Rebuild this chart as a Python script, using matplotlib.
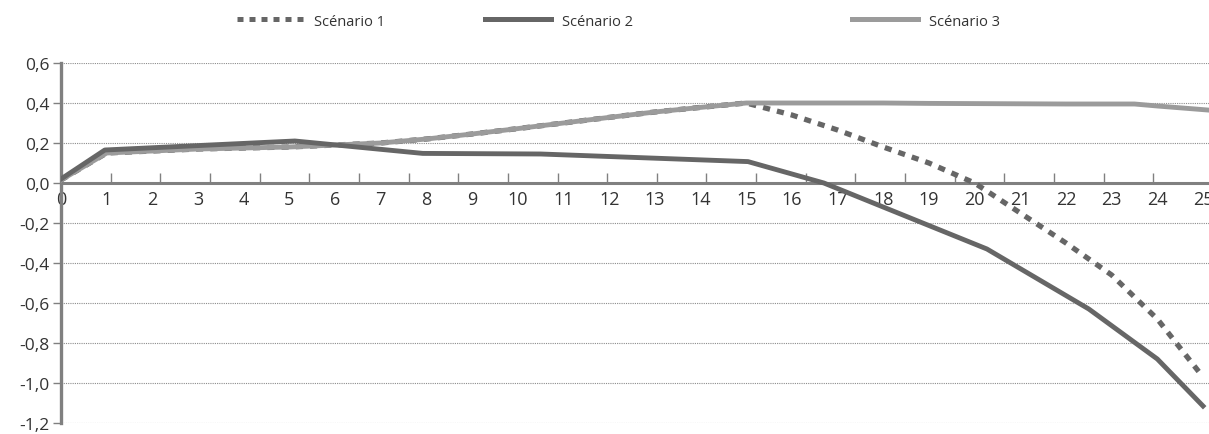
import matplotlib
matplotlib.use("Agg")
import matplotlib.pyplot as plt
from matplotlib.lines import Line2D
from matplotlib.ticker import FixedLocator, FuncFormatter

# ── Data ──────────────────────────────────────────────────────────────────────

SC3_X = [0, 1, 2, 3, 4, 5, 6, 7, 8, 9, 10, 11, 12, 13, 14, 15,
         16, 17, 18, 19, 20, 21, 22, 23, 23.5, 24, 25.1]
SC3_Y = [0.015, 0.15, 0.16, 0.17, 0.175, 0.18, 0.19, 0.20, 0.22, 0.245, 0.272,
         0.30, 0.328, 0.355, 0.378, 0.40,
         0.40, 0.40, 0.40, 0.398, 0.397, 0.396, 0.395, 0.395, 0.395, 0.385, 0.365]

SC1_X = [0, 1, 2, 3, 4, 5, 6, 7, 8, 9, 10, 11, 12, 13, 14, 15,
         16, 17, 18, 19, 20, 21, 22, 23, 24, 25]
SC1_Y = [0.015, 0.15, 0.16, 0.17, 0.175, 0.18, 0.19, 0.20, 0.22, 0.245, 0.272,
         0.30, 0.328, 0.355, 0.378, 0.40,
         0.34, 0.265, 0.18, 0.10, 0.0, -0.15, -0.30, -0.46, -0.68, -0.97]

SC2_X = [0, 0.96, 5.12, 7.92, 10.5, 15.04, 16.7, 20.27, 22.5, 24.0, 25.0]
SC2_Y = [0.02, 0.165, 0.21, 0.148, 0.145, 0.107, 0.0, -0.33, -0.63, -0.88, -1.115]

X_LABELS = list(range(0, 26))
Y_TICKS = [-1.2, -1.0, -0.8, -0.6, -0.4, -0.2, 0.0, 0.2, 0.4, 0.6]
NAMES = ["Scénario 1", "Scénario 2", "Scénario 3"]

# ── Style ─────────────────────────────────────────────────────────────────────

DARK = "#666666"
LIGHT = "#9b9b9b"
AXIS = "#808080"
GRID = "#8c8c8c"
TEXT = "#333333"

W, H = 1209, 435
plt.rcParams["font.family"] = ["Open Sans", "DejaVu Sans"]

fig = plt.figure(figsize=(W / 100, H / 100), dpi=100)
fig.patch.set_facecolor("white")
ax = fig.add_axes([61 / W, (H - 424) / H, 1 - 61 / W, (424 - 64) / H])

ax.plot(SC1_X, SC1_Y, color=DARK, lw=3.8, dashes=(1.35, 1.35),
        solid_capstyle="butt", dash_capstyle="butt", zorder=3)
ax.plot(SC3_X, SC3_Y, color=LIGHT, lw=3.5, solid_joinstyle="round", zorder=4)
ax.plot(SC2_X, SC2_Y, color=DARK, lw=3.5, solid_joinstyle="round", zorder=5)

ax.set_xlim(0, (W - 61) / 45.68)
ax.set_ylim(-1.2, 0.6)

# grid
for y in Y_TICKS:
    if y != 0:
        ax.axhline(y, color=GRID, lw=0.8, ls=(0, (1, 1)), zorder=1)

# spines
for s in ("top", "right"):
    ax.spines[s].set_visible(False)
ax.spines["left"].set_color(AXIS)
ax.spines["left"].set_linewidth(2.4)
ax.spines["bottom"].set_position(("data", 0))
ax.spines["bottom"].set_color(AXIS)
ax.spines["bottom"].set_linewidth(2.2)
ax.spines["bottom"].set_zorder(2)

# y axis
ax.set_yticks(Y_TICKS)
ax.yaxis.set_major_formatter(FuncFormatter(lambda v, p: f"{v:.1f}".replace(".", ",")))
ax.tick_params(axis="y", direction="out", length=6, width=1, color=AXIS,
               pad=2, labelsize=12.5, labelcolor=TEXT)

# x axis: labels at integers, tick marks on their own spacing
ax.set_xticks(X_LABELS)
ax.set_xticklabels([str(v) for v in X_LABELS])
ax.xaxis.set_minor_locator(FixedLocator([25 * k / 23 for k in range(1, 24)]))
ax.tick_params(axis="x", which="major", length=0, pad=5, labelsize=13, labelcolor=TEXT)
ax.tick_params(axis="x", which="minor", direction="in", length=7, width=1, color=AXIS)

# legend
handles = [
    Line2D([], [], color=DARK, lw=3.6, dashes=(1.2, 1.2), dash_capstyle="butt"),
    Line2D([], [], color=DARK, lw=3.6),
    Line2D([], [], color=LIGHT, lw=3.6),
]
for h, name, x0 in zip(handles, NAMES, [237, 485, 852]):
    lg = fig.legend([h], [name], loc="center left",
                    bbox_to_anchor=(x0 / W, 1 - 22 / H), frameon=False,
                    fontsize=10.5, handlelength=4.5, handletextpad=0.8,
                    borderpad=0, borderaxespad=0, labelcolor=TEXT)

fig.savefig("out.png", dpi=100, facecolor="white")
